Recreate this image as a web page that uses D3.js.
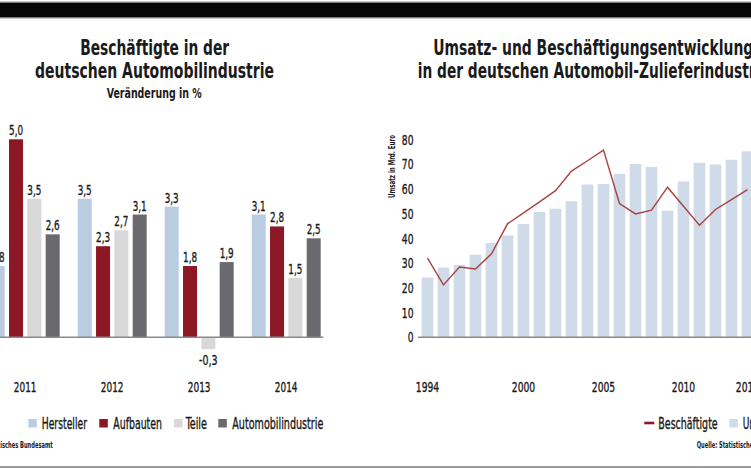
<!DOCTYPE html>
<html>
<head>
<meta charset="utf-8">
<script src="https://cdn.jsdelivr.net/npm/d3@7/dist/d3.min.js"></script>
<style>
  html, body { margin: 0; padding: 0; background: #fff; }
  svg { display: block; }
  text { font-family: "Liberation Sans Narrow", "DejaVu Sans Condensed", "Roboto", sans-serif; fill: #1a1a1a; }
  .title { font-weight: bold; font-size: 22px; }
  .sub { font-weight: bold; font-size: 13.5px; }
  .val, .tick, .legend { stroke: #1a1a1a; stroke-width: 0.35px; }
  .val { font-size: 14px; }
  .tick { font-size: 14.5px; }
  .legend { font-size: 15.5px; }
  .src { font-size: 9.5px; font-weight: bold; }
</style>
</head>
<body>
<script>
// left chart: change of employees in %
const years = ['2011', '2012', '2013', '2014'];
const hersteller = [1.8, 3.5, 3.3, 3.1];
const aufbauten  = [5.0, 2.3, 1.8, 2.8];
const teile      = [3.5, 2.7, -0.3, 1.5];
const automobil  = [2.6, 3.1, 1.9, 2.5];
const seriesNames = ['Hersteller', 'Aufbauten', 'Teile', 'Automobilindustrie'];

// right chart: turnover (bars) and employees (line), 1994-2014
const zYears = d3.range(1994, 2015).map(String);
const umsatz = [24.2, 28.2, 29.3, 33.4, 38.1, 41.2, 45.8, 50.7, 52.0, 55.0, 61.8,
                62.0, 66.1, 70.1, 68.9, 51.2, 63.0, 70.6, 69.9, 71.8, 75.2];
const beschaeftigte = [32.0, 21.2, 28.4, 27.6, 33.8, 45.9, 50.3, 54.8, 59.3, 67.2, 71.4,
                       75.7, 54.1, 49.9, 51.4, 60.7, 53.0, 45.3, 51.7, 55.7, 59.7];
const zTickLabels = ['1994', '2000', '2005', '2010', '2014'];
const yTicks = d3.range(0, 90, 10);

const width = 751, height = 469;
const colors = ['#b9cce2', '#8c1725', '#d8d8d8', '#6a6a6e'];
const umsatzColor = '#cfdbe9', lineColor = '#a8423f';

// the original uses a very narrow face: squeeze text to its measured width
const fit = (sel, w) => sel.attr('textLength', w).attr('lengthAdjust', 'spacingAndGlyphs');

const svg = d3.select('body').append('svg')
    .attr('width', width)
    .attr('height', height);

// frame: black band on top, grey rule at bottom
svg.append('rect')
    .attr('x', -2).attr('y', 2)
    .attr('width', width + 4).attr('height', 16)
    .attr('fill', '#060606')
    .attr('stroke', '#b0b0b0').attr('stroke-width', 1.4);
svg.append('line')
    .attr('x1', 0).attr('x2', width)
    .attr('y1', 467).attr('y2', 467)
    .attr('stroke', '#7a7a7a').attr('stroke-width', 1.5);

/* ---------- left chart ---------- */
const left = svg.append('g');

left.append('text').attr('class', 'title')
    .attr('x', 154.7).attr('y', 55).attr('text-anchor', 'middle')
    .text('Beschäftigte in der').call(fit, 149);
left.append('text').attr('class', 'title')
    .attr('x', 154.5).attr('y', 77.5).attr('text-anchor', 'middle')
    .text('deutschen Automobilindustrie').call(fit, 239);
left.append('text').attr('class', 'sub')
    .attr('x', 154.2).attr('y', 97.5).attr('text-anchor', 'middle')
    .text('Veränderung in %').call(fit, 95);

const x0 = d3.scaleBand()
    .domain(years)
    .range([-35.4, 346.8])
    .paddingInner(0.207)
    .paddingOuter(0.3);

const x1 = d3.scaleBand()
    .domain(seriesNames)
    .range([0, x0.bandwidth()])
    .paddingInner(0.235)
    .paddingOuter(0);

const yL = d3.scaleLinear()
    .domain([0, 5])
    .range([337.3, 139.3]);

const leftData = [hersteller, aufbauten, teile, automobil];
const cells = [];
years.forEach((yr, i) => {
    seriesNames.forEach((s, j) => cells.push({ year: yr, series: s, k: j, value: leftData[j][i] }));
});

left.append('g').selectAll('rect')
    .data(cells)
    .join('rect')
    .attr('x', d => x0(d.year) + x1(d.series))
    .attr('width', x1.bandwidth())
    .attr('y', d => yL(Math.max(0, d.value)))
    .attr('height', d => Math.abs(yL(d.value) - yL(0)))
    .attr('fill', d => colors[d.k]);

const fmt = v => d3.format('.1f')(v).replace('.', ',').replace('−', '-');

left.append('g').selectAll('text')
    .data(cells)
    .join('text')
    .attr('class', 'val')
    .attr('text-anchor', 'middle')
    .attr('x', d => x0(d.year) + x1(d.series) + x1.bandwidth() / 2)
    .attr('y', d => d.value >= 0 ? yL(d.value) - 4 : yL(d.value) + 16)
    .text(d => fmt(d.value))
    .attr('textLength', d => d.value < 0 ? 18.5 : 14)
    .attr('lengthAdjust', 'spacingAndGlyphs');

left.append('line')
    .attr('x1', -12).attr('x2', 323.3)
    .attr('y1', yL(0)).attr('y2', yL(0))
    .attr('stroke', '#8a8a8a').attr('stroke-width', 1.6);

left.append('g').selectAll('text')
    .data(years)
    .join('text')
    .attr('class', 'tick')
    .attr('text-anchor', 'middle')
    .attr('x', d => x0(d) + x0.bandwidth() / 2)
    .attr('y', 392.3)
    .text(d => d)
    .call(fit, 22.7);

// legend
const legL = [
    { name: 'Hersteller', sx: 28.3, tx: 41.7, w: 45.3 },
    { name: 'Aufbauten', sx: 99.3, tx: 113.3, w: 48.7 },
    { name: 'Teile', sx: 174, tx: 185.7, w: 21.3 },
    { name: 'Automobilindustrie', sx: 218.3, tx: 232.3, w: 91 }
];
legL.forEach((d, i) => {
    left.append('rect')
        .attr('x', d.sx).attr('y', 419)
        .attr('width', 8.5).attr('height', 8.5)
        .attr('fill', colors[i]);
    left.append('text').attr('class', 'legend')
        .attr('x', d.tx).attr('y', 429)
        .text(d.name).call(fit, d.w);
});

left.append('text').attr('class', 'src')
    .attr('x', 52.7).attr('y', 448).attr('text-anchor', 'end')
    .text('Quelle: Statistisches Bundesamt').call(fit, 94);

/* ---------- right chart ---------- */
const right = svg.append('g');

right.append('text').attr('class', 'title')
    .attr('x', 433.3).attr('y', 55)
    .text('Umsatz- und Beschäftigungsentwicklung').call(fit, 320);
right.append('text').attr('class', 'title')
    .attr('x', 417.7).attr('y', 77.5)
    .text('in der deutschen Automobil-Zulieferindustrie').call(fit, 352);

const xR = d3.scaleBand()
    .domain(zYears)
    .range([419.5, 419.5 + 336])
    .paddingInner(0.27)
    .paddingOuter(0.135);

const yR = d3.scaleLinear()
    .domain([0, 80])
    .range([337.3, 139.5]);

right.append('g').selectAll('rect')
    .data(umsatz)
    .join('rect')
    .attr('x', (d, i) => xR(zYears[i]))
    .attr('width', xR.bandwidth())
    .attr('y', d => yR(d))
    .attr('height', d => yR(0) - yR(d))
    .attr('fill', umsatzColor);

right.append('line')
    .attr('x1', 418).attr('x2', width + 5)
    .attr('y1', yR(0)).attr('y2', yR(0))
    .attr('stroke', '#8a8a8a').attr('stroke-width', 1.6);

const yAxis = d3.axisLeft(yR).tickValues(yTicks).tickSize(0).tickPadding(0);
right.append('g')
    .attr('transform', 'translate(413.5,0)')
    .call(yAxis)
    .call(g => g.select('.domain').remove())
    .call(g => g.selectAll('text')
        .attr('class', 'tick')
        .attr('font-family', null).attr('font-size', null)
        .attr('fill', '#1a1a1a')
        .attr('textLength', d => d === 0 ? 5.8 : 11.7)
        .attr('lengthAdjust', 'spacingAndGlyphs'));

right.append('text')
    .attr('transform', 'translate(395,166.5) rotate(-90)')
    .attr('text-anchor', 'middle')
    .style('font-size', '8px').style('font-weight', 'bold')
    .text('Umsatz in Mrd. Euro').call(fit, 63);

const line = d3.line()
    .x((d, i) => xR(zYears[i]) + xR.bandwidth() / 2)
    .y(d => yR(d));

right.append('path')
    .datum(beschaeftigte)
    .attr('d', line)
    .attr('fill', 'none')
    .attr('stroke', lineColor)
    .attr('stroke-width', 1.4);

right.append('g').selectAll('text')
    .data(zTickLabels)
    .join('text')
    .attr('class', 'tick')
    .attr('text-anchor', 'middle')
    .attr('x', d => xR(d) + xR.bandwidth() / 2)
    .attr('y', 392.3)
    .text(d => d)
    .call(fit, 23.3);

// legend
right.append('line')
    .attr('x1', 644.3).attr('x2', 654.3)
    .attr('y1', 423).attr('y2', 423)
    .attr('stroke', '#8c1725').attr('stroke-width', 2.6);
right.append('text').attr('class', 'legend')
    .attr('x', 658.3).attr('y', 429)
    .text('Beschäftigte').call(fit, 59.4);
right.append('rect')
    .attr('x', 729.3).attr('y', 419)
    .attr('width', 8.5).attr('height', 8.5)
    .attr('fill', umsatzColor);
right.append('text').attr('class', 'legend')
    .attr('x', 742.7).attr('y', 429)
    .text('Umsatz').call(fit, 34);

right.append('text').attr('class', 'src')
    .attr('x', 696.7).attr('y', 448)
    .text('Quelle: Statistisches Bundesamt').call(fit, 94);
</script>
</body>
</html>
